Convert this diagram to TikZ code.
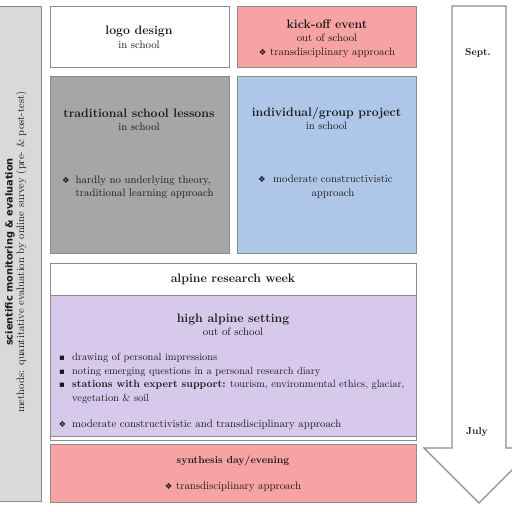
\documentclass[tikz,border=0pt]{standalone}
\usepackage{fontspec}
\newfontfamily\dejavu{DejaVu Sans}
\definecolor{bordergray}{RGB}{140,140,140}
\definecolor{lightgrayfill}{RGB}{217,217,217}
\definecolor{darkgrayfill}{RGB}{166,166,166}
\definecolor{pinkfill}{RGB}{247,163,163}
\definecolor{bluefill}{RGB}{174,199,233}
\definecolor{purplefill}{RGB}{214,201,236}
\definecolor{textcol}{RGB}{25,25,25}
\newcommand{\diabullet}{{\dejavu\fontsize{8.5}{9}\selectfont ❖}}
\newcommand{\sqbullet}{{\dejavu\fontsize{8.5}{9}\selectfont ▪}}
\tikzset{
  box/.style={draw=bordergray, line width=1.2pt, rectangle, inner sep=0pt, anchor=north west},
  ttl/.style={font=\fontsize{12.3}{14}\selectfont\bfseries, text=textcol, inner sep=0pt, anchor=base},
  txt/.style={font=\fontsize{10.8}{13.5}\selectfont, text=textcol, inner sep=0pt, anchor=base},
  atxt/.style={font=\fontsize{10.4}{13}\selectfont, text=textcol, inner sep=0pt, anchor=base west},
  blt/.style={text=textcol, inner sep=0pt, anchor=base},
}
\begin{document}
\begin{tikzpicture}[x=1pt,y=-1pt]
\useasboundingbox (0,0) rectangle (512,512);
\clip (0,0) rectangle (512,512);
\fill[white] (0,0) rectangle (512,512);

% left monitoring box
\node[box, fill=lightgrayfill, minimum width=44pt, minimum height=495pt] (mon) at (-3,6) {};
\node[rotate=90, font=\fontsize{9.8}{12}\selectfont\dejavu\bfseries, text=textcol, inner sep=0pt] (monttl) at (10,252) {scientific monitoring \& evaluation};
\node[rotate=90, font=\fontsize{10.7}{12}\selectfont, text=textcol, inner sep=0pt] (montxt) at (21.5,252) {methods: quantitative evaluation by online survey (pre- \& post-test)};

% logo design
\node[box, fill=white, minimum width=179pt, minimum height=61pt] (logo) at (50,6) {};
\node[ttl] (logot) at (139,34) {logo design};
\node[txt] (logos) at (139,48) {in school};

% kick-off
\node[box, fill=pinkfill, minimum width=179pt, minimum height=61pt] (kick) at (237,6) {};
\node[ttl] (kickt) at (327,28) {kick-off event};
\node[txt] (kicks) at (327,41.5) {out of school};
\node[txt] (kickb) at (327,55) {\diabullet\ transdisciplinary approach};

% traditional
\node[box, fill=darkgrayfill, minimum width=179pt, minimum height=177pt] (trad) at (50,76) {};
\node[ttl] (tradt) at (139,117) {traditional school lessons};
\node[txt] (trads) at (139,130.5) {in school};
\node[blt] (tradb) at (66,183) {\diabullet};
\node[txt, anchor=base west] (tradl1) at (75.5,183) {hardly no underlying theory,};
\node[txt, anchor=base west] (tradl2) at (75.5,196.5) {traditional learning approach};

% individual
\node[box, fill=bluefill, minimum width=179pt, minimum height=177pt] (indiv) at (237,76) {};
\node[ttl] (indivt) at (326.5,116) {individual/group project};
\node[txt] (indivs) at (326.5,129.5) {in school};
\node[blt] (indivb) at (262,182.5) {\diabullet};
\node[txt] (indivl1) at (333,182.5) {moderate constructivistic};
\node[txt] (indivl2) at (333,196) {approach};

% alpine research week
\node[box, fill=white, minimum width=366pt, minimum height=177pt] (alp) at (50,263) {};
\node[ttl] (alpt) at (233,282) {alpine research week};
\node[box, fill=purplefill, minimum width=366pt, minimum height=141pt] (high) at (50,295) {};
\node[ttl] (hight) at (233,322) {high alpine setting};
\node[txt] (highs) at (233,335.5) {out of school};
\node[blt] (hb1) at (62,360) {\sqbullet};
\node[blt] (hb2) at (62,374) {\sqbullet};
\node[blt] (hb3) at (62,387.5) {\sqbullet};
\node[atxt] (hl1) at (72,360) {drawing of personal impressions};
\node[atxt] (hl2) at (72,374) {noting emerging questions in a personal research diary};
\node[atxt] (hl3) at (72,387.5) {\textbf{stations with expert support:} tourism, environmental ethics, glaciar,};
\node[atxt] (hl4) at (72,401) {vegetation \& soil};
\node[blt] (hb5) at (62.5,427) {\diabullet};
\node[txt, anchor=base west] (hl5) at (72,427) {moderate constructivistic and transdisciplinary approach};

% synthesis
\node[box, fill=pinkfill, minimum width=366pt, minimum height=58pt] (syn) at (50,444) {};
\node[ttl, font=\fontsize{10.2}{12}\selectfont\bfseries] (synt) at (233,463) {synthesis day/evening};
\node[txt] (synb) at (233,489.5) {\diabullet\ transdisciplinary approach};

% time arrow
\draw[draw=bordergray, line width=1.2pt, fill=white, line join=miter]
  (452,6) -- (506,6) -- (506,448) -- (534,448) -- (479,503) -- (424,448) -- (452,448) -- cycle;
\node[ttl, font=\fontsize{10}{12}\selectfont\bfseries] (sept) at (478,55) {Sept.};
\node[ttl, font=\fontsize{10}{12}\selectfont\bfseries] (july) at (477,434) {July};
\end{tikzpicture}
\end{document}
